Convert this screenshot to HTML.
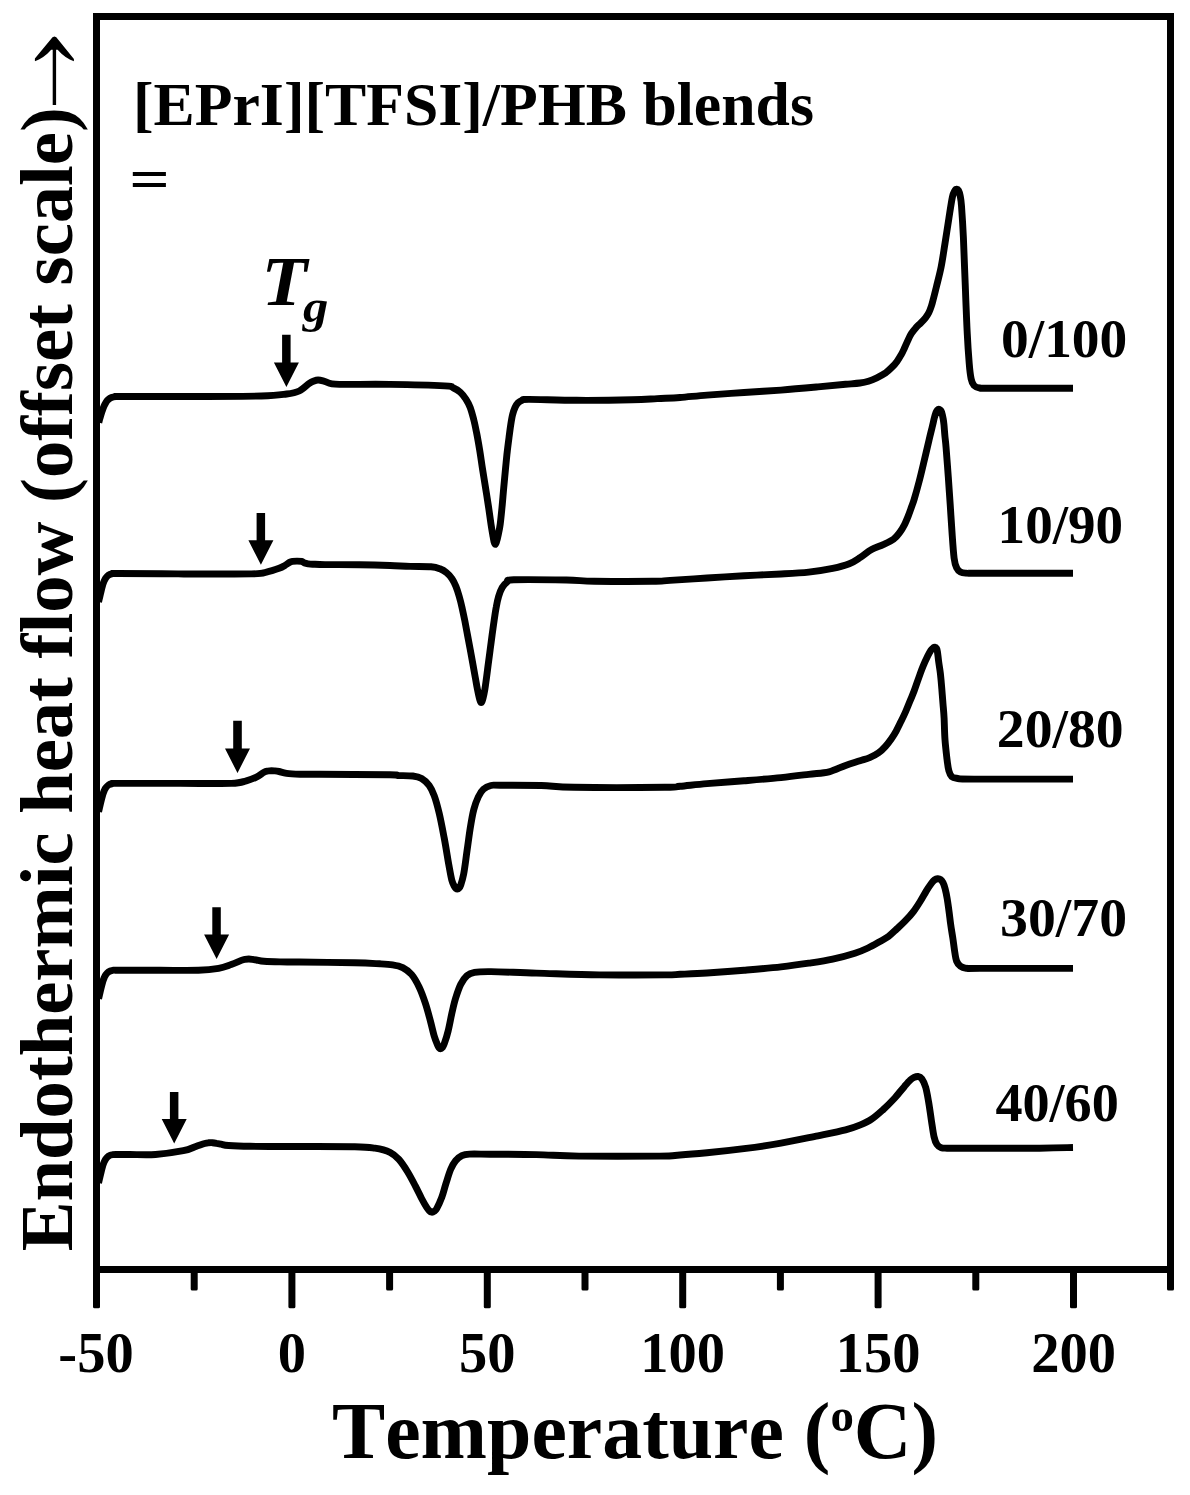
<!DOCTYPE html>
<html><head><meta charset="utf-8"><title>DSC</title>
<style>
html,body{margin:0;padding:0;background:#fff;}
body{width:1190px;height:1495px;overflow:hidden;}
svg{display:block;}
text{font-family:"Liberation Serif","Times New Roman",serif;font-weight:bold;fill:#000;font-kerning:none;}
</style></head><body>
<svg width="1190" height="1495" viewBox="0 0 1190 1495">
<rect width="1190" height="1495" fill="#fff"/>
<g fill="none" stroke="#000" stroke-width="6.9" stroke-linejoin="round" stroke-linecap="butt"><path d="M98.8 422.5C99.0 421.8 99.4 420.1 99.9 418.4C100.4 416.6 101.1 414.0 101.8 412.0C102.5 410.0 103.2 407.9 103.9 406.3C104.6 404.7 105.3 403.4 106.0 402.3C106.7 401.2 107.3 400.5 108.2 399.7C109.1 398.9 110.2 398.0 111.5 397.5C112.8 397.0 114.0 396.8 115.7 396.6C117.5 396.4 109.5 396.5 122.0 396.5C134.5 396.5 167.6 396.6 190.8 396.5C214.0 396.4 245.4 396.4 261.4 396.0C277.4 395.6 280.3 394.8 286.6 394.0C292.9 393.2 295.4 392.8 299.2 391.0C303.0 389.2 306.8 385.1 309.3 383.4C311.8 381.7 312.5 381.6 314.0 381.0C315.5 380.4 316.6 380.0 318.1 380.0C319.6 380.0 320.7 380.2 323.0 380.8C325.3 381.4 328.3 383.3 332.0 383.9C335.7 384.5 335.3 384.3 345.0 384.4C354.7 384.5 373.4 384.1 390.0 384.4C406.6 384.6 434.1 385.3 444.6 385.9C455.1 386.4 450.5 386.6 453.1 387.7C455.7 388.8 458.2 390.4 460.3 392.3C462.4 394.2 464.2 396.6 465.9 399.1C467.5 401.6 468.9 404.1 470.2 407.5C471.5 410.9 472.6 415.3 473.7 419.5C474.8 423.7 475.6 427.8 476.6 432.8C477.6 437.8 478.6 443.6 479.6 449.6C480.6 455.6 481.5 462.5 482.5 468.9C483.5 475.3 484.6 481.7 485.6 488.1C486.6 494.5 487.7 501.4 488.6 507.4C489.5 513.4 490.3 519.7 491.0 524.3C491.7 528.9 492.3 532.2 492.8 535.1C493.3 538.0 493.6 540.0 494.0 541.5C494.4 543.0 494.9 544.4 495.3 544.4C495.7 544.4 496.1 543.0 496.6 541.5C497.1 540.0 497.6 538.0 498.2 535.1C498.8 532.2 499.6 528.9 500.2 524.3C500.8 519.7 501.4 513.4 502.0 507.4C502.6 501.4 503.1 494.5 503.7 488.1C504.3 481.7 504.9 474.9 505.5 468.9C506.1 462.9 506.6 457.2 507.2 452.0C507.8 446.8 508.4 442.2 509.0 437.6C509.6 433.0 510.2 428.2 510.8 424.4C511.4 420.6 511.9 417.5 512.6 414.7C513.3 411.9 514.1 409.5 515.0 407.5C515.9 405.5 516.9 403.9 518.1 402.7C519.3 401.5 520.5 400.8 522.3 400.2C524.1 399.6 519.8 399.4 528.9 399.4C538.0 399.4 559.4 400.2 576.6 400.3C593.8 400.4 618.5 400.1 632.0 399.8C645.5 399.5 649.3 399.0 657.3 398.6C665.3 398.2 671.7 398.1 680.0 397.5C688.3 396.9 696.3 395.9 707.0 395.1C717.7 394.3 731.7 393.3 744.0 392.5C756.3 391.7 768.7 391.0 781.0 390.1C793.3 389.2 807.2 387.9 818.0 386.9C828.8 385.9 838.6 384.9 845.6 384.3C852.6 383.7 856.2 383.5 860.0 383.0C863.8 382.5 865.6 382.1 868.4 381.2C871.2 380.3 874.0 379.1 876.8 377.8C879.6 376.5 882.7 374.9 885.2 373.2C887.7 371.4 889.9 369.3 891.9 367.3C893.9 365.3 895.5 363.5 897.0 361.4C898.5 359.3 900.0 356.9 901.2 354.7C902.5 352.5 903.4 350.4 904.5 348.0C905.6 345.6 906.8 342.8 907.9 340.4C909.0 338.0 910.0 335.7 911.3 333.7C912.6 331.7 914.0 329.9 915.5 328.2C917.0 326.4 918.8 324.9 920.5 323.2C922.2 321.5 924.1 319.6 925.5 317.8C926.9 316.0 927.9 314.5 928.9 312.5C929.9 310.5 930.6 308.4 931.4 306.0C932.2 303.6 932.6 301.7 933.5 298.4C934.4 295.1 935.3 291.3 936.6 286.0C937.9 280.7 939.8 273.7 941.2 266.6C942.6 259.5 943.7 251.5 945.0 243.4C946.3 235.3 947.7 226.0 948.9 218.3C950.1 210.6 951.4 201.6 952.4 197.0C953.4 192.4 954.0 192.1 954.7 190.8C955.4 189.5 956.0 189.2 956.6 189.2C957.2 189.1 957.9 189.4 958.5 190.5C959.1 191.6 959.7 193.4 960.2 196.0C960.7 198.6 961.0 199.1 961.5 206.0C962.0 212.9 962.8 224.3 963.4 237.6C964.0 250.9 964.6 269.9 965.3 286.0C965.9 302.1 966.6 321.4 967.3 334.3C967.9 347.2 968.6 355.9 969.2 363.3C969.8 370.7 970.3 375.0 971.1 378.7C971.9 382.4 972.5 383.9 974.0 385.5C975.5 387.1 977.1 387.6 979.8 388.0C982.5 388.4 974.5 388.2 990.0 388.2C1005.5 388.2 1059.2 388.2 1073.0 388.2"/><path d="M98.6 602.0C98.7 601.5 98.9 600.5 99.3 598.8C99.7 597.1 100.4 594.0 101.0 591.6C101.6 589.2 102.3 586.5 102.8 584.7C103.3 582.9 103.7 582.0 104.2 580.9C104.7 579.8 104.9 579.2 105.6 578.2C106.3 577.2 107.3 575.9 108.5 575.1C109.7 574.3 111.1 573.9 112.7 573.6C114.3 573.4 107.1 573.5 118.0 573.5C128.9 573.5 156.0 573.8 178.2 573.9C200.4 574.0 236.6 574.2 251.3 573.9C266.0 573.6 261.9 573.0 266.5 572.1C271.1 571.2 276.1 569.4 279.1 568.3C282.1 567.2 282.8 566.7 284.5 565.7C286.2 564.7 288.2 563.1 289.5 562.4C290.8 561.7 291.2 561.6 292.5 561.4C293.8 561.2 295.5 561.1 297.0 561.1C298.5 561.1 300.3 561.1 301.6 561.4C302.9 561.7 303.5 562.6 304.6 563.0C305.7 563.4 306.6 563.6 308.0 563.8C309.4 564.0 309.9 564.1 312.7 564.2C315.5 564.3 317.2 564.5 325.0 564.6C332.8 564.7 348.9 564.6 359.7 564.8C370.5 564.9 381.6 565.2 390.0 565.5C398.4 565.8 403.4 566.2 410.2 566.4C417.0 566.6 426.1 566.4 431.0 566.8C435.9 567.2 437.3 567.8 439.9 568.8C442.5 569.8 444.5 571.0 446.5 572.6C448.5 574.2 450.4 576.4 452.0 578.7C453.6 581.0 454.7 583.5 455.9 586.4C457.1 589.3 458.2 592.9 459.2 596.4C460.2 599.9 461.1 603.3 462.0 607.4C462.9 611.5 463.9 616.1 464.8 620.7C465.7 625.3 466.6 630.2 467.5 635.0C468.4 639.8 469.3 644.6 470.2 649.4C471.1 654.2 472.0 659.1 472.8 663.7C473.6 668.3 474.4 672.8 475.2 677.0C476.0 681.2 476.7 685.6 477.4 689.1C478.1 692.6 478.8 695.9 479.3 697.9C479.8 699.9 480.0 700.4 480.3 701.2C480.6 702.0 480.9 702.5 481.2 702.5C481.5 702.5 481.8 702.0 482.1 701.2C482.4 700.4 482.6 699.9 483.1 697.9C483.6 695.9 484.3 692.6 484.9 689.1C485.5 685.6 486.0 681.2 486.6 677.0C487.2 672.8 487.7 668.3 488.3 663.7C488.9 659.1 489.6 654.2 490.2 649.4C490.8 644.6 491.5 639.8 492.1 635.0C492.8 630.2 493.4 625.3 494.1 620.7C494.8 616.1 495.4 611.5 496.2 607.4C496.9 603.3 497.6 599.7 498.6 596.4C499.6 593.1 500.8 589.9 502.2 587.5C503.6 585.1 505.3 583.3 507.2 582.0C509.1 580.7 503.9 580.1 513.8 579.8C523.7 579.5 553.1 579.8 566.5 580.0C579.9 580.2 580.0 581.1 594.3 581.3C608.6 581.5 639.6 581.4 652.2 581.3C664.8 581.1 660.9 580.9 670.0 580.4C679.1 579.9 694.7 578.8 707.0 578.0C719.3 577.2 731.7 576.5 744.0 575.8C756.3 575.1 770.2 574.6 781.0 574.0C791.8 573.4 800.1 573.0 808.7 572.1C817.3 571.2 825.9 569.8 832.7 568.4C839.5 567.0 844.7 565.6 849.3 563.8C853.9 562.0 856.7 559.8 860.4 557.4C864.1 555.0 867.8 551.6 871.6 549.5C875.4 547.4 879.6 546.3 883.2 544.6C886.9 542.9 890.7 541.3 893.5 539.3C896.3 537.3 898.0 534.8 899.8 532.4C901.6 530.0 903.0 527.5 904.4 524.8C905.8 522.1 907.0 519.1 908.2 516.1C909.4 513.1 910.5 509.8 911.5 507.0C912.5 504.2 912.9 503.7 914.2 499.3C915.5 494.9 917.7 487.0 919.4 480.5C921.1 474.0 922.7 467.0 924.3 460.3C925.9 453.6 927.7 445.8 929.0 440.2C930.3 434.6 931.3 430.7 932.2 427.0C933.1 423.3 933.7 420.4 934.3 418.0C934.9 415.6 935.5 413.9 936.0 412.5C936.5 411.1 937.0 410.5 937.5 409.9C938.0 409.3 938.3 409.1 938.8 409.1C939.2 409.1 939.7 409.4 940.2 409.9C940.7 410.4 941.1 410.7 941.6 412.2C942.1 413.7 942.8 416.9 943.2 419.0C943.6 421.1 943.7 422.0 944.0 425.0C944.3 428.0 944.6 433.2 945.0 437.0C945.4 440.8 945.6 441.3 946.1 448.0C946.6 454.7 947.6 467.3 948.3 477.0C949.0 486.7 949.6 496.3 950.3 506.0C950.9 515.7 951.6 526.3 952.2 535.0C952.8 543.7 953.4 552.6 954.1 558.1C954.8 563.6 955.5 565.5 956.6 567.8C957.7 570.1 958.9 571.2 960.5 572.1C962.1 573.0 963.0 573.0 966.3 573.2C969.5 573.4 962.2 573.3 980.0 573.3C997.8 573.3 1057.5 573.3 1073.0 573.3"/><path d="M98.6 811.9C98.7 811.4 98.9 810.4 99.3 808.7C99.7 807.0 100.4 803.9 101.0 801.5C101.6 799.1 102.3 796.4 102.8 794.6C103.3 792.8 103.7 791.9 104.2 790.8C104.7 789.7 104.9 789.1 105.6 788.1C106.3 787.1 107.3 785.8 108.5 785.0C109.7 784.2 111.1 783.8 112.7 783.5C114.3 783.3 106.8 783.4 118.0 783.4C129.2 783.4 161.1 783.4 180.0 783.4C198.9 783.4 220.1 783.8 231.2 783.4C242.2 783.0 242.1 781.8 246.3 780.8C250.5 779.8 253.4 778.5 256.4 777.1C259.3 775.7 262.1 773.3 264.0 772.3C265.9 771.3 266.8 771.3 268.0 771.0C269.2 770.7 270.3 770.7 271.5 770.7C272.7 770.7 273.7 770.8 275.0 770.9C276.3 771.0 277.2 771.1 279.1 771.5C281.0 771.9 283.1 772.8 286.6 773.3C290.1 773.8 294.5 774.0 300.0 774.2C305.5 774.4 304.4 774.2 319.4 774.3C334.4 774.4 377.0 774.6 390.0 774.8C403.0 775.0 393.8 775.3 397.6 775.5C401.4 775.7 408.8 775.5 412.8 776.0C416.8 776.5 418.9 776.9 421.6 778.5C424.3 780.1 427.1 782.6 429.2 785.5C431.3 788.4 432.5 791.0 434.2 795.6C435.9 800.2 437.5 806.1 439.2 813.3C440.9 820.4 442.7 830.1 444.3 838.5C445.9 846.9 447.4 856.8 448.6 863.7C449.9 870.6 450.8 876.3 451.8 880.1C452.8 883.9 453.7 885.0 454.4 886.4C455.1 887.8 455.5 888.1 456.0 888.5C456.5 888.9 456.9 889.0 457.4 889.0C457.9 889.0 458.3 888.9 458.9 888.2C459.4 887.6 459.9 887.5 460.7 885.1C461.5 882.7 462.6 879.5 463.7 873.8C464.8 868.1 465.9 858.7 467.0 851.1C468.1 843.5 469.1 835.3 470.2 828.4C471.3 821.5 472.4 814.8 473.8 809.5C475.2 804.2 476.7 800.3 478.3 796.9C479.9 793.5 481.3 791.2 483.4 789.3C485.5 787.4 488.1 786.2 490.9 785.5C493.7 784.8 491.6 785.3 500.0 785.3C508.4 785.3 528.9 785.2 541.3 785.5C553.6 785.8 553.5 787.0 574.1 787.3C594.7 787.6 647.1 787.5 664.8 787.3C682.4 787.1 673.0 786.9 680.0 786.3C687.0 785.7 696.3 784.5 707.0 783.6C717.7 782.7 731.7 781.8 744.0 780.8C756.3 779.8 770.2 778.7 781.0 777.6C791.8 776.5 800.7 775.3 808.7 774.3C816.7 773.3 822.9 773.3 829.0 771.8C835.1 770.3 840.4 767.2 845.6 765.4C850.8 763.6 856.0 762.1 860.0 760.8C864.0 759.5 866.6 758.9 869.7 757.6C872.8 756.3 876.0 754.7 878.6 752.8C881.2 750.9 883.4 748.6 885.5 746.3C887.6 743.9 889.6 741.3 891.4 738.7C893.2 736.1 894.7 733.8 896.3 730.8C897.9 727.8 899.6 724.2 901.2 721.0C902.8 717.8 904.3 714.8 905.7 711.5C907.1 708.2 908.4 705.0 909.8 701.5C911.2 698.0 912.7 694.9 914.2 690.8C915.7 686.7 917.5 681.2 919.0 677.1C920.5 673.0 921.6 669.6 923.1 666.1C924.6 662.6 926.4 658.8 927.7 656.1C929.0 653.5 930.1 651.6 931.0 650.2C931.9 648.8 932.5 648.4 933.2 647.9C933.9 647.4 934.5 647.2 935.0 647.3C935.5 647.3 936.0 647.5 936.4 648.2C936.8 648.9 937.0 649.2 937.4 651.5C937.8 653.8 938.2 658.2 938.7 661.9C939.2 665.6 939.9 669.2 940.4 673.7C940.9 678.2 941.4 683.8 941.8 688.8C942.2 693.8 942.6 699.0 943.0 703.9C943.4 708.8 943.8 712.2 944.1 718.2C944.4 724.2 944.5 733.0 945.0 739.8C945.5 746.6 946.4 754.0 947.0 759.2C947.6 764.4 948.1 767.9 948.9 770.8C949.7 773.7 950.5 775.4 951.8 776.6C953.1 777.9 952.9 777.9 956.6 778.3C960.3 778.7 954.6 779.0 974.0 779.1C993.4 779.2 1056.5 779.1 1073.0 779.1"/><path d="M98.6 998.8C98.7 998.3 98.9 997.3 99.3 995.6C99.7 993.9 100.4 990.8 101.0 988.4C101.6 986.0 102.3 983.3 102.8 981.5C103.3 979.7 103.7 978.8 104.2 977.7C104.7 976.6 104.9 976.0 105.6 975.0C106.3 974.0 107.3 972.7 108.5 971.9C109.7 971.1 111.1 970.7 112.7 970.4C114.3 970.2 110.1 970.3 118.0 970.3C125.9 970.3 146.6 970.3 160.0 970.3C173.4 970.3 188.6 970.6 198.4 970.3C208.2 970.0 213.1 969.3 218.6 968.3C224.1 967.3 227.4 965.8 231.2 964.5C235.0 963.2 239.0 961.3 241.3 960.4C243.6 959.5 243.8 959.5 245.0 959.3C246.2 959.1 247.6 959.0 248.8 959.0C250.1 959.0 251.2 959.2 252.5 959.4C253.8 959.6 254.5 959.7 256.4 960.0C258.3 960.3 260.0 961.0 263.9 961.3C267.8 961.6 274.1 961.8 280.0 961.9C285.9 962.0 286.8 961.9 299.2 962.0C311.6 962.1 341.2 962.5 354.7 962.8C368.2 963.1 373.7 963.5 380.0 963.8C386.3 964.1 388.8 964.2 392.6 964.8C396.4 965.4 399.6 966.0 402.7 967.6C405.8 969.2 408.8 971.2 411.5 974.4C414.2 977.6 416.8 982.2 419.1 987.0C421.4 991.8 423.5 997.7 425.4 1003.4C427.3 1009.1 428.9 1015.5 430.4 1021.0C431.9 1026.5 433.0 1032.1 434.2 1036.1C435.4 1040.1 436.7 1043.0 437.5 1044.9C438.3 1046.9 438.5 1047.2 439.0 1047.8C439.5 1048.4 440.0 1048.8 440.5 1048.8C441.0 1048.8 441.6 1048.6 442.2 1047.8C442.8 1047.0 443.3 1046.5 444.3 1043.7C445.3 1040.9 446.9 1036.1 448.1 1031.1C449.4 1026.0 450.6 1018.9 451.8 1013.4C453.1 1007.9 454.1 1003.1 455.6 998.3C457.1 993.5 458.8 988.2 460.7 984.4C462.6 980.6 464.7 977.6 467.0 975.6C469.3 973.6 470.5 973.0 474.5 972.3C478.5 971.6 480.6 971.5 490.9 971.6C501.2 971.7 518.2 972.6 536.3 973.1C554.4 973.6 577.9 974.6 599.3 974.9C620.7 975.2 651.3 975.0 664.8 974.9C678.2 974.8 673.0 974.6 680.0 974.3C687.0 974.0 696.3 973.7 707.0 973.0C717.7 972.3 731.7 971.2 744.0 970.2C756.3 969.2 770.2 968.1 781.0 966.9C791.8 965.7 800.1 964.5 808.7 963.2C817.3 961.9 825.0 960.8 832.7 959.1C840.4 957.4 849.0 955.1 854.9 953.2C860.8 951.4 863.8 950.0 868.0 948.0C872.2 946.0 876.6 943.4 880.0 941.5C883.4 939.6 885.6 938.6 888.4 936.5C891.2 934.4 894.0 931.5 896.8 928.9C899.6 926.3 902.4 923.8 905.2 920.9C908.0 918.0 911.1 914.6 913.6 911.3C916.1 908.0 918.2 904.6 920.3 901.2C922.4 897.8 924.4 894.1 926.2 891.1C928.0 888.1 929.9 885.4 931.3 883.5C932.7 881.6 933.5 880.7 934.6 879.9C935.7 879.1 936.6 878.8 937.6 878.7C938.6 878.6 939.6 878.8 940.5 879.5C941.4 880.2 942.2 881.2 943.0 882.7C943.8 884.2 944.4 885.9 945.1 888.6C945.8 891.3 946.6 895.1 947.2 898.7C947.8 902.3 948.3 906.2 948.9 910.4C949.5 914.6 950.0 919.4 950.6 923.9C951.2 928.4 952.0 932.8 952.7 937.3C953.4 941.8 954.0 947.0 954.6 951.0C955.2 955.0 955.6 958.6 956.6 961.1C957.6 963.6 958.9 965.1 960.5 966.3C962.1 967.5 963.0 967.9 966.3 968.3C969.5 968.6 962.2 968.4 980.0 968.4C997.8 968.4 1057.5 968.4 1073.0 968.4"/><path d="M98.6 1183.0C98.7 1182.5 98.9 1181.5 99.3 1179.8C99.7 1178.1 100.4 1174.9 101.0 1172.6C101.6 1170.2 102.3 1167.5 102.8 1165.7C103.3 1163.9 103.7 1163.0 104.2 1161.9C104.7 1160.8 104.9 1160.2 105.6 1159.2C106.3 1158.2 107.3 1156.9 108.5 1156.1C109.7 1155.3 111.1 1154.9 112.7 1154.7C114.3 1154.4 115.1 1154.5 118.0 1154.5C120.9 1154.5 123.8 1154.5 130.0 1154.5C136.2 1154.5 146.6 1155.1 155.5 1154.5C164.4 1153.9 176.6 1152.0 183.3 1150.7C190.0 1149.4 192.3 1147.7 195.9 1146.5C199.5 1145.3 202.6 1144.1 204.7 1143.5C206.8 1142.9 207.2 1142.9 208.5 1142.8C209.8 1142.7 211.0 1142.6 212.3 1142.7C213.6 1142.8 215.0 1143.0 216.5 1143.3C218.0 1143.5 219.1 1143.8 221.1 1144.2C223.1 1144.6 223.8 1145.2 228.6 1145.5C233.4 1145.8 240.3 1146.1 250.0 1146.3C259.7 1146.5 269.2 1146.4 286.6 1146.5C304.1 1146.6 340.0 1146.4 354.7 1146.7C369.4 1147.0 369.0 1147.3 374.9 1148.2C380.8 1149.1 386.0 1150.4 390.0 1152.3C394.0 1154.2 395.9 1156.1 398.9 1159.4C401.8 1162.7 405.0 1167.6 407.7 1172.0C410.4 1176.4 413.0 1181.5 415.3 1185.9C417.6 1190.3 419.7 1194.9 421.6 1198.5C423.5 1202.1 425.3 1205.2 426.6 1207.3C427.9 1209.3 428.5 1210.0 429.3 1210.8C430.1 1211.6 430.9 1212.1 431.7 1212.2C432.5 1212.3 433.4 1211.9 434.2 1211.3C435.0 1210.7 435.4 1210.9 436.7 1208.6C438.0 1206.2 440.2 1201.4 441.8 1197.2C443.4 1193.0 444.5 1188.0 446.0 1183.4C447.5 1178.8 449.0 1173.3 450.6 1169.5C452.2 1165.7 453.7 1163.0 455.6 1160.7C457.5 1158.4 459.6 1156.7 461.9 1155.6C464.2 1154.5 464.8 1154.3 469.5 1154.1C474.2 1153.9 478.9 1154.1 490.0 1154.2C501.1 1154.3 521.4 1154.3 536.3 1154.6C551.1 1154.9 558.5 1155.8 579.1 1156.1C599.7 1156.3 643.0 1156.3 659.8 1156.1C676.6 1155.9 672.1 1155.5 680.0 1155.0C687.9 1154.5 696.3 1153.8 707.0 1152.8C717.7 1151.8 731.7 1150.3 744.0 1148.7C756.3 1147.1 768.7 1145.4 781.0 1143.2C793.3 1141.0 807.1 1138.0 817.9 1135.8C828.7 1133.6 838.5 1131.7 845.6 1129.9C852.7 1128.1 856.1 1126.7 860.4 1124.9C864.7 1123.1 867.8 1121.8 871.6 1119.2C875.4 1116.7 879.3 1113.1 883.2 1109.6C887.1 1106.1 891.2 1101.9 894.8 1098.0C898.3 1094.1 901.9 1089.4 904.5 1086.4C907.1 1083.4 908.7 1081.5 910.3 1080.0C911.9 1078.5 912.8 1078.0 914.1 1077.4C915.4 1076.8 916.7 1076.3 918.0 1076.5C919.3 1076.7 920.5 1076.9 921.8 1078.7C923.1 1080.5 924.6 1083.6 925.7 1087.4C926.8 1091.2 927.6 1096.2 928.6 1101.8C929.6 1107.4 930.6 1115.4 931.5 1121.2C932.4 1127.0 933.1 1132.7 934.0 1136.6C934.9 1140.5 935.7 1142.6 936.9 1144.4C938.1 1146.2 939.5 1147.1 941.2 1147.7C942.9 1148.3 943.9 1148.1 947.0 1148.2C950.1 1148.3 944.5 1148.2 960.0 1148.2C975.5 1148.2 1020.9 1148.3 1039.7 1148.2C1058.5 1148.1 1067.5 1147.6 1073.0 1147.5"/></g>
<g fill="#000" stroke="none"><path d="M282.1 334.7 H290.6 V362.4 H298.9 L286.4 386.9 L273.9 362.4 H282.1 Z"/><path d="M256.6 512.9 H265.1 V540.3 H273.4 L260.9 564.8 L248.4 540.3 H256.6 Z"/><path d="M233.2 720.8 H241.8 V748.5 H250.0 L237.5 773.0 L225.0 748.5 H233.2 Z"/><path d="M212.3 907.3 H220.8 V934.5 H229.1 L216.6 959.0 L204.1 934.5 H212.3 Z"/><path d="M169.9 1092.0 H178.4 V1119.0 H186.7 L174.2 1143.5 L161.7 1119.0 H169.9 Z"/></g>
<rect x="96.5" y="16.5" width="1074" height="1253" fill="none" stroke="#000" stroke-width="7"/>
<g fill="#000"><rect x="93.0" y="1268" width="7" height="40.3" rx="1.6"/><rect x="288.4" y="1268" width="7" height="40.3" rx="1.6"/><rect x="483.8" y="1268" width="7" height="40.3" rx="1.6"/><rect x="679.2" y="1268" width="7" height="40.3" rx="1.6"/><rect x="874.6" y="1268" width="7" height="40.3" rx="1.6"/><rect x="1070.0" y="1268" width="7" height="40.3" rx="1.6"/><rect x="190.7" y="1268" width="7" height="22.6" rx="1.6"/><rect x="386.1" y="1268" width="7" height="22.6" rx="1.6"/><rect x="581.5" y="1268" width="7" height="22.6" rx="1.6"/><rect x="776.9" y="1268" width="7" height="22.6" rx="1.6"/><rect x="972.3" y="1268" width="7" height="22.6" rx="1.6"/><rect x="1167.0" y="1268" width="7" height="22.6" rx="1.6"/></g>
<g font-size="56.5"><text x="96.0" y="1371.5" text-anchor="middle">-50</text><text x="291.9" y="1371.5" text-anchor="middle">0</text><text x="487.3" y="1371.5" text-anchor="middle">50</text><text x="682.7" y="1371.5" text-anchor="middle">100</text><text x="878.1" y="1371.5" text-anchor="middle">150</text><text x="1073.5" y="1371.5" text-anchor="middle">200</text></g>
<g font-size="55.5"><text x="1001.0" y="356.9" textLength="126.3" lengthAdjust="spacingAndGlyphs">0/100</text><text x="997.6" y="542.8" textLength="125.6" lengthAdjust="spacingAndGlyphs">10/90</text><text x="996.8" y="746.9" textLength="126.8" lengthAdjust="spacingAndGlyphs">20/80</text><text x="1000.1" y="936.0" textLength="126.9" lengthAdjust="spacingAndGlyphs">30/70</text><text x="995.4" y="1121.0" textLength="123.4" lengthAdjust="spacingAndGlyphs">40/60</text></g>
<text x="133" y="124.7" font-size="61.5" textLength="681" lengthAdjust="spacingAndGlyphs">[EPrI][TFSI]/PHB blends</text>
<text x="129.3" y="198.3" font-size="57" textLength="40.6" lengthAdjust="spacingAndGlyphs">=</text>
<text x="261.4" y="304.8" font-size="69" font-style="italic" textLength="45.6" lengthAdjust="spacingAndGlyphs">T</text>
<text x="303" y="321.8" font-size="46" font-style="italic" textLength="25.3" lengthAdjust="spacingAndGlyphs">g</text>
<text x="332" y="1457.7" font-size="80" textLength="606" lengthAdjust="spacingAndGlyphs">Temperature (<tspan font-size="47" dy="-27">o</tspan><tspan dy="27">C)</tspan></text>
<text transform="translate(72.3 1251.2) rotate(-90)" font-size="75" textLength="1144" lengthAdjust="spacingAndGlyphs">Endothermic heat flow (offset scale)</text>
<path fill="#000" d="M54.4 36.6L56.3 37.2L73.9 59L73.9 61.2C68.5 59.6 62.6 55.6 57.6 49.8L56.1 49.8L56.1 105L52.7 105L52.7 49.8L51.2 49.8C46.2 55.6 40.3 59.6 34.9 61.2L34.9 58.4L52.5 37.2Z"/>
</svg>
</body></html>
